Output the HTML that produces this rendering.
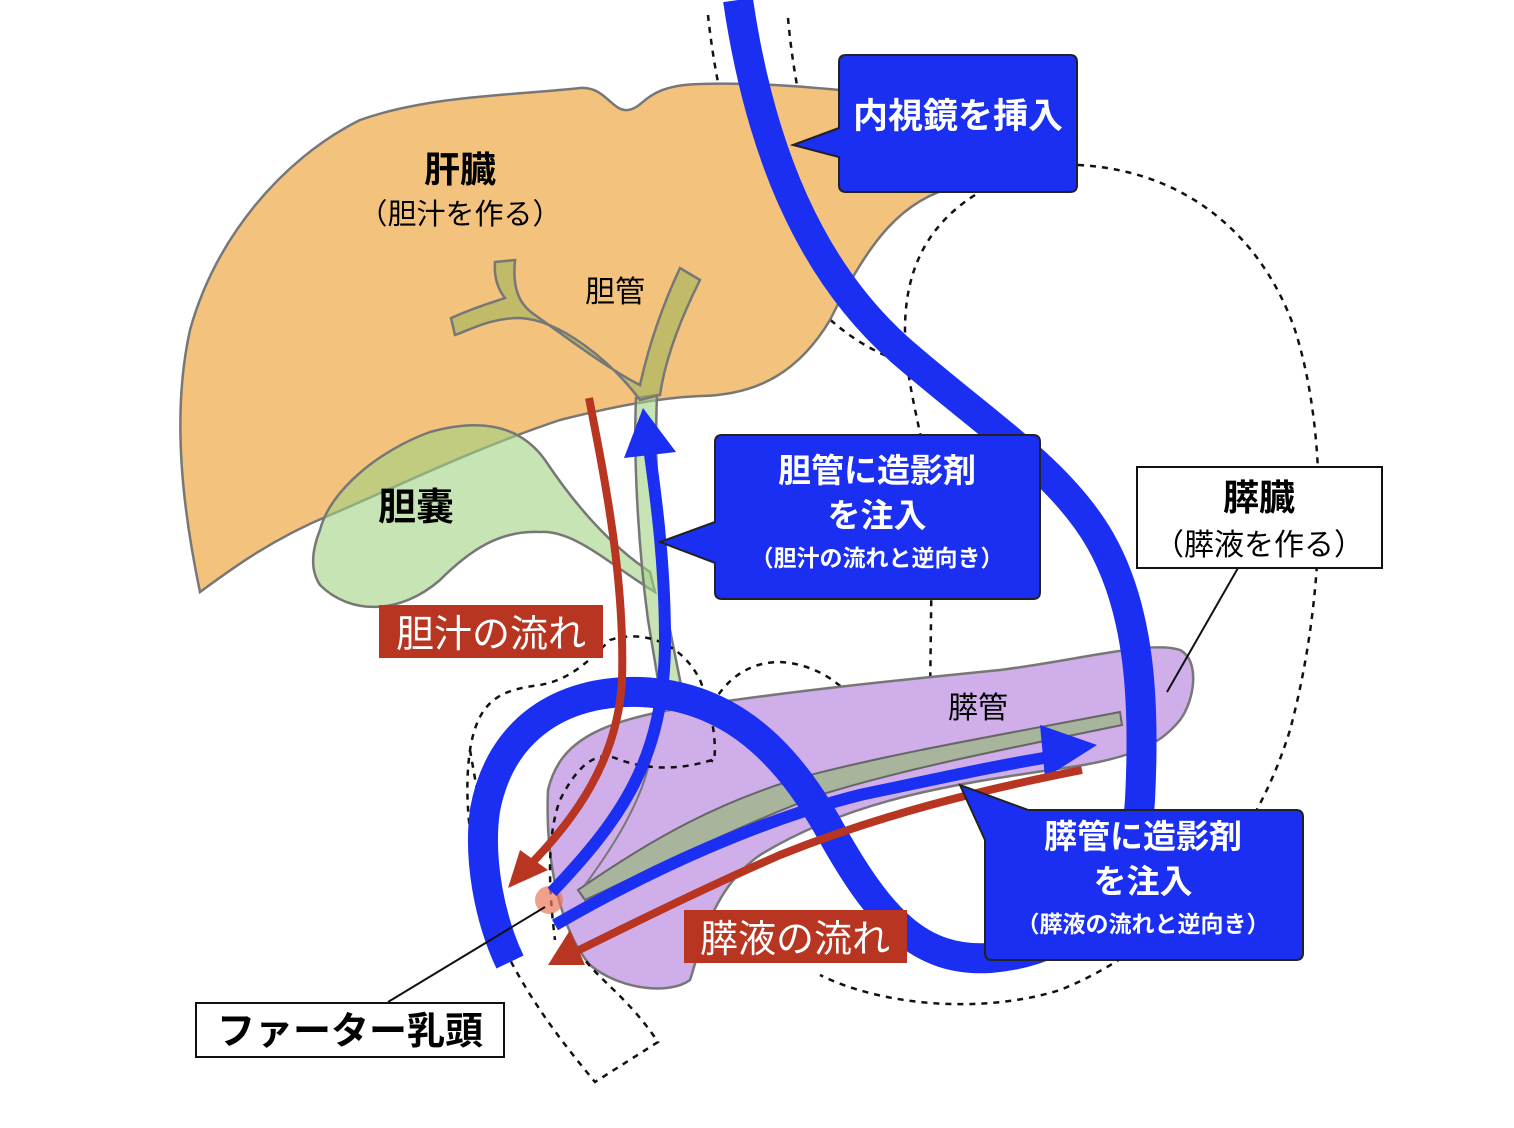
<!DOCTYPE html>
<html><head><meta charset="utf-8"><style>
html,body{margin:0;padding:0;background:#fff;}
svg{display:block;}
text{font-family:"Liberation Sans","Noto Sans CJK JP",sans-serif;}
</style></head><body>
<svg width="1514" height="1128" viewBox="0 0 1514 1128" xmlns="http://www.w3.org/2000/svg">
<!-- stomach dotted -->
<path d="M1078,165 C1180,170 1260,230 1295,330 C1330,440 1325,600 1290,730 C1250,860 1160,950 1060,990 C980,1015 880,1005 820,975" fill="none" stroke="#111" stroke-width="2.5" stroke-dasharray="6,6"/>
<path d="M975,195 C920,230 905,280 905,330 C905,400 935,460 932,540 L930,700 C925,740 900,745 880,738 C860,700 830,665 780,662 C740,662 720,690 712,705" fill="none" stroke="#111" stroke-width="2.5" stroke-dasharray="6,6"/>
<path d="M708,15 C720,130 760,260 820,310 C850,340 880,355 910,365" fill="none" stroke="#111" stroke-width="2.5" stroke-dasharray="6,6"/>
<path d="M788,18 C795,100 820,200 850,260" fill="none" stroke="#111" stroke-width="2.5" stroke-dasharray="6,6"/>
<!-- liver -->
<path d="M200,592 C185,520 170,420 190,330 C215,240 280,160 360,120 C430,95 520,95 580,88 C605,86 612,112 628,110 C645,108 645,85 700,84 C760,82 820,88 860,92 L960,185 C900,200 870,240 830,320 C800,370 760,395 700,396 C660,398 620,405 560,420 C470,450 390,490 330,515 C270,540 230,570 200,592Z" fill="#f3c37e" stroke="#777" stroke-width="2.5"/>
<!-- gallbladder -->
<path d="M320,530 C330,490 380,450 430,432 C480,418 520,425 545,460 C575,505 610,545 650,572 L655,592 C610,565 575,530 540,532 C500,530 470,550 440,580 C400,615 350,615 320,585 C310,570 312,550 320,530Z" fill="rgba(160,210,130,0.6)" stroke="#777" stroke-width="2.5"/>
<!-- common bile duct -->
<path d="M636,398 L657,395 C654,470 660,560 668,620 L682,690 L660,692 L648,620 C640,560 633,470 636,398Z" fill="rgba(160,210,130,0.6)" stroke="#777" stroke-width="2.5"/>
<!-- bile duct branches -->
<path d="M495,262 L515,260 C512,290 520,305 535,315 C570,340 610,370 640,385 C650,340 665,300 680,268 L700,280 C680,320 665,360 660,395 L640,400 C610,360 560,320 520,318 C490,318 470,330 455,335 L451,318 C480,305 500,300 505,298 C497,288 494,275 495,262Z" fill="rgba(160,180,90,0.6)" stroke="#777" stroke-width="2.5"/>
<!-- pancreas -->
<path d="M548,790 C560,740 600,720 700,705 C800,690 900,680 1000,670 C1080,660 1150,640 1180,650 C1200,660 1195,700 1180,720 C1160,745 1130,760 1050,770 C950,785 850,800 760,855 C710,890 700,950 690,980 C670,995 620,990 590,965 C560,930 545,860 548,790Z" fill="#cfaee9" stroke="#777" stroke-width="2.5"/>
<!-- pancreatic duct -->
<path d="M578,890 C650,840 720,800 810,775 C900,752 1000,735 1120,712 L1122,725 C1000,750 900,770 820,795 C740,825 650,870 585,900Z" fill="#a8b49c" stroke="#666" stroke-width="2"/>
<path d="M655,690 C660,760 640,810 585,885" fill="none" stroke="#777" stroke-width="2"/>
<!-- duodenum dotted -->
<path d="M505,950 C480,900 460,820 470,750 C478,700 500,690 540,685 C570,680 590,660 610,640 C640,630 680,640 700,680 C720,730 715,770 712,760 M712,760 C680,770 650,770 620,760 C600,750 580,760 560,800 C545,840 550,900 555,940 M470,750 L505,950 C530,1000 560,1040 595,1082 L658,1042 C630,1000 600,980 585,960" fill="none" stroke="#111" stroke-width="2.5" stroke-dasharray="6,6"/>
<!-- endoscope -->
<path d="M738,0 C760,150 810,270 900,350 C980,420 1060,470 1100,540 C1140,610 1145,700 1140,800 C1135,880 1090,950 990,958 C920,962 880,920 830,830 C780,740 720,695 640,692 C560,690 500,730 485,810 C478,860 490,920 510,962" fill="none" stroke="#1a2ff2" stroke-width="30"/>
<circle cx="549" cy="900" r="14" fill="rgba(235,120,90,0.7)"/>
<!-- blue thin arrows -->
<path d="M552,892 C620,820 665,760 665,640 C665,560 655,490 648,440" fill="none" stroke="#1a2ff2" stroke-width="12"/>
<polygon points="643,408 624,458 676,452" fill="#1a2ff2"/>
<path d="M555,925 C650,870 760,820 860,795 C940,778 1000,765 1050,757" fill="none" stroke="#1a2ff2" stroke-width="12"/>
<polygon points="1097,745 1040,725 1045,778" fill="#1a2ff2"/>
<!-- red arrows -->
<path d="M589,398 C605,480 625,580 622,680 C618,760 575,820 525,870" fill="none" stroke="#b73521" stroke-width="8"/>
<polygon points="508,888 520,850 548,870" fill="#b73521"/>
<path d="M1082,770 C980,790 880,815 780,855 C700,890 630,925 575,952" fill="none" stroke="#b73521" stroke-width="8"/>
<polygon points="548,965 570,930 585,965" fill="#b73521"/>
<line x1="545" y1="907" x2="388" y2="1002" stroke="#111" stroke-width="2"/>
<line x1="1238" y1="568" x2="1167" y2="692" stroke="#111" stroke-width="2"/>
<!-- callouts -->
<g fill="#1a2ff2" stroke="#222" stroke-width="2">
<path d="M846,55 L1070,55 Q1077,55 1077,62 L1077,185 Q1077,192 1070,192 L846,192 Q839,192 839,185 L839,157 L793,145 L839,128 L839,62 Q839,55 846,55Z"/>
<path d="M722,435 L1033,435 Q1040,435 1040,442 L1040,592 Q1040,599 1033,599 L722,599 Q715,599 715,592 L715,563 L660,542 L715,522 L715,442 Q715,435 722,435Z"/>
<path d="M1028,810 L1296,810 Q1303,810 1303,817 L1303,953 Q1303,960 1296,960 L992,960 Q985,960 985,953 L985,840 L960,785 L1028,810Z"/>
</g>
<g fill="#fff" font-weight="bold" text-anchor="middle">
<text x="958" y="128" font-size="35">内視鏡を挿入</text>
<text x="877" y="482" font-size="33">胆管に造影剤</text>
<text x="877" y="527" font-size="33">を注入</text>
<text x="877" y="566" font-size="23">（胆汁の流れと逆向き）</text>
<text x="1143" y="848" font-size="33">膵管に造影剤</text>
<text x="1143" y="893" font-size="33">を注入</text>
<text x="1143" y="932" font-size="23">（膵液の流れと逆向き）</text>
</g>
<rect x="379" y="605" width="224" height="53" fill="#b73521"/>
<text x="491" y="647" font-size="38" fill="#fff" text-anchor="middle">胆汁の流れ</text>
<rect x="684" y="910" width="223" height="53" fill="#b73521"/>
<text x="795" y="952" font-size="38" fill="#fff" text-anchor="middle">膵液の流れ</text>
<rect x="1137" y="467" width="245" height="101" fill="#fff" stroke="#111" stroke-width="2"/>
<text x="1259" y="510" font-size="36" font-weight="bold" text-anchor="middle">膵臓</text>
<text x="1259" y="555" font-size="30" text-anchor="middle">（膵液を作る）</text>
<rect x="196" y="1003" width="308" height="54" fill="#fff" stroke="#111" stroke-width="2"/>
<text x="350" y="1044" font-size="38" font-weight="bold" text-anchor="middle">ファーター乳頭</text>
<text x="460" y="182" font-size="36" font-weight="bold" text-anchor="middle">肝臓</text>
<text x="460" y="224" font-size="29" text-anchor="middle">（胆汁を作る）</text>
<text x="615" y="302" font-size="30" text-anchor="middle">胆管</text>
<text x="416" y="520" font-size="38" font-weight="bold" text-anchor="middle">胆嚢</text>
<text x="978" y="718" font-size="30" text-anchor="middle">膵管</text>
</svg>
</body></html>
